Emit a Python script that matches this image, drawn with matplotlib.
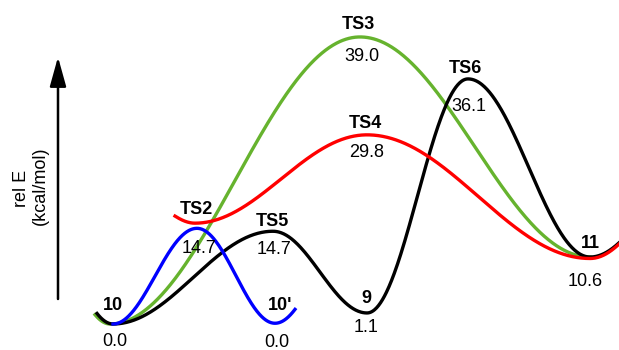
import numpy as np
import matplotlib.pyplot as plt

plt.rcParams['font.family'] = ['Liberation Sans', 'DejaVu Sans']

# stationary points: position along the drawn reaction coordinate, drawn height
# (the picture is schematic, so drawn heights are read off the image)
names = ['10', 'TS2', 'TS5', "10'", '9', 'TS6', 'TS3', 'TS4', '11']
energies = ['0.0', '14.7', '14.7', '0.0', '1.1', '36.1', '39.0', '29.8', '10.6']
node_x = [113, 197, 273, 275, 367, 468, 360, 367, 590]
node_y = [0.0, 13.0, 12.6, 0.1, 1.5, 33.3, 39.0, 25.7, 9.1]

# label offsets in pixels from the point (name above, energy below)
name_off = [(0, 21), (-1, 20.5), (-1, 12), (5, 20), (-1, 16), (-3, 12), (-2, 14.5), (-2, 13), (0, 16)]
en_off = [(2, -15.5), (2, -18), (1, -16), (2, -17.5), (-1, -13), (1, -26), (2, -17.5), (0, -16), (-5, -22)]

# paths: extrema (first / last may lie outside the drawn range) and drawn x-range
blue_x = [113, 197, 275, 355]
blue_y = [0.0, 13.0, 0.1, 13.0]
black_x = [33, 113, 273, 367, 468, 590, 700]
black_y = [15.0, 0.0, 12.6, 1.5, 33.3, 9.1, 21.0]
green_x = [30, 110, 360, 590]
green_y = [15.0, 0.0, 39.0, 9.1]
red_x = [140, 195, 367, 590, 700]
red_y = [17.0, 13.7, 25.7, 8.9, 21.0]


def profile(xs, ys, x0, x1):
    x = np.linspace(x0, x1, 800)
    y = np.zeros_like(x)
    for i in range(len(xs) - 1):
        m = (x >= xs[i]) & (x <= xs[i + 1])
        t = (x[m] - xs[i]) / (xs[i + 1] - xs[i])
        y[m] = ys[i] + (ys[i + 1] - ys[i]) * (1 - np.cos(np.pi * t)) / 2
    return x, y


fig = plt.figure(figsize=(6.19, 3.5), dpi=100)
ax = fig.add_axes([0, 0, 1, 1])
ax.set_xlim(0, 619)
ax.set_ylim(-26 / 7.36, 324 / 7.36)
ax.axis('off')

lw = 2.4
ax.plot(*profile(green_x, green_y, 95, 590), color='#66b32e', lw=lw)
ax.plot(*profile(black_x, black_y, 97, 619), color='black', lw=lw)
ax.plot(*profile(red_x, red_y, 175, 619), color='#ff0000', lw=lw)
ax.plot(*profile(blue_x, blue_y, 113, 295), color='#0000ff', lw=lw)

fs = 13
for i in range(len(names)):
    ax.annotate(names[i], (node_x[i], node_y[i]), xytext=(name_off[i][0], name_off[i][1] - 6.5),
                textcoords='offset pixels', ha='center', va='baseline',
                fontsize=fs, fontweight='bold')
    ax.annotate(energies[i], (node_x[i], node_y[i]), xytext=(en_off[i][0], en_off[i][1] - 6.5),
                textcoords='offset pixels', ha='center', va='baseline', fontsize=fs)

# energy axis arrow
ax.annotate('', xy=(58, 293), xycoords='figure pixels', xytext=(58, 51), textcoords='figure pixels',
            arrowprops=dict(arrowstyle='-|>,head_length=0.9,head_width=0.25', lw=1.8,
                            color='black', mutation_scale=20, shrinkA=0, shrinkB=0))
fig.text(21 / 619, 1 - 188 / 350, 'rel E', rotation=90, ha='center', va='center', fontsize=fs)
fig.text(40 / 619, 1 - 186 / 350, '(kcal/mol)', rotation=90, ha='center', va='center', fontsize=fs)

fig.savefig('out.png', dpi=100)
